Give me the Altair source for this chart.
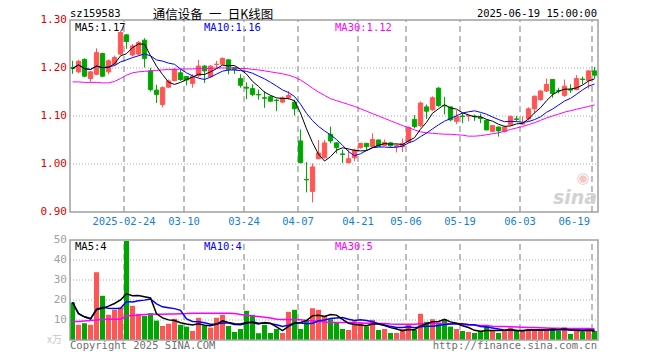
import altair as alt
import pandas as pd

dates = ["2025-02-11","2025-02-12","2025-02-13","2025-02-14",
"2025-02-17","2025-02-18","2025-02-19","2025-02-20","2025-02-21",
"2025-02-24","2025-02-25","2025-02-26","2025-02-27","2025-02-28",
"2025-03-03","2025-03-04","2025-03-05","2025-03-06","2025-03-07",
"2025-03-10","2025-03-11","2025-03-12","2025-03-13","2025-03-14",
"2025-03-17","2025-03-18","2025-03-19","2025-03-20","2025-03-21",
"2025-03-24","2025-03-25","2025-03-26","2025-03-27","2025-03-28","2025-03-31",
"2025-04-01","2025-04-02","2025-04-03",
"2025-04-07","2025-04-08","2025-04-09","2025-04-10","2025-04-11",
"2025-04-14","2025-04-15","2025-04-16","2025-04-17","2025-04-18",
"2025-04-21","2025-04-22","2025-04-23","2025-04-24","2025-04-25",
"2025-04-28","2025-04-29","2025-04-30",
"2025-05-06","2025-05-07","2025-05-08","2025-05-09",
"2025-05-12","2025-05-13","2025-05-14","2025-05-15","2025-05-16",
"2025-05-19","2025-05-20","2025-05-21","2025-05-22","2025-05-23",
"2025-05-26","2025-05-27","2025-05-28","2025-05-29","2025-05-30",
"2025-06-03","2025-06-04","2025-06-05","2025-06-06",
"2025-06-09","2025-06-10","2025-06-11","2025-06-12","2025-06-13",
"2025-06-16","2025-06-17","2025-06-18","2025-06-19"]

open_ = [1.201,1.192,1.218,1.178,1.187,1.230,1.192,1.208,1.229,1.269,
1.227,1.229,1.258,1.194,1.154,1.124,1.160,1.174,1.190,1.182,
1.168,1.184,1.204,1.182,1.207,1.208,1.217,1.201,1.178,1.160,
1.157,1.145,1.138,1.140,1.133,1.129,1.138,1.129,1.048,0.968,
0.943,1.011,1.013,1.062,1.044,1.021,1.003,1.013,1.034,1.043,
1.036,1.050,1.039,1.044,1.036,1.036,1.046,1.093,1.080,1.119,
1.113,1.158,1.122,1.119,1.089,1.100,1.100,1.100,1.097,1.091,
1.068,1.077,1.068,1.082,1.094,1.083,1.094,1.115,1.134,1.152,
1.176,1.153,1.143,1.155,1.155,1.177,1.174,1.194]

close = [1.199,1.214,1.183,1.192,1.232,1.183,1.215,1.222,1.274,1.255,
1.246,1.253,1.220,1.155,1.145,1.159,1.173,1.197,1.176,1.175,
1.183,1.204,1.194,1.204,1.208,1.220,1.197,1.197,1.164,1.158,
1.145,1.144,1.137,1.131,1.132,1.138,1.143,1.115,1.003,0.967,
0.994,1.023,1.044,1.048,1.034,1.020,1.011,1.029,1.043,1.036,
1.051,1.037,1.045,1.038,1.039,1.043,1.076,1.078,1.127,1.110,
1.138,1.122,1.121,1.092,1.099,1.099,1.101,1.099,1.095,1.071,
1.080,1.069,1.077,1.099,1.093,1.085,1.115,1.141,1.152,1.166,
1.147,1.152,1.162,1.154,1.178,1.176,1.194,1.185]

high = [1.215,1.217,1.220,1.194,1.241,1.232,1.218,1.226,1.278,1.271,
1.250,1.256,1.262,1.200,1.165,1.162,1.176,1.200,1.197,1.183,
1.187,1.217,1.206,1.206,1.215,1.222,1.218,1.203,1.187,1.170,
1.166,1.155,1.152,1.143,1.136,1.141,1.152,1.134,1.072,1.004,
1.001,1.050,1.050,1.078,1.046,1.030,1.030,1.032,1.044,1.044,
1.064,1.051,1.051,1.046,1.041,1.053,1.078,1.102,1.130,1.124,
1.141,1.160,1.140,1.119,1.112,1.106,1.103,1.103,1.105,1.092,
1.080,1.078,1.080,1.101,1.100,1.099,1.118,1.143,1.154,1.178,
1.177,1.159,1.176,1.166,1.185,1.182,1.195,1.202]

low = [1.188,1.189,1.181,1.171,1.185,1.181,1.187,1.205,1.227,1.240,
1.224,1.226,1.201,1.151,1.127,1.118,1.159,1.172,1.173,1.164,
1.159,1.180,1.169,1.180,1.200,1.206,1.187,1.188,1.159,1.135,
1.141,1.134,1.117,1.129,1.110,1.127,1.134,1.101,1.001,0.941,
0.920,1.011,1.011,1.043,1.022,1.002,1.001,1.006,1.032,1.029,
1.034,1.036,1.038,1.034,1.024,1.025,1.044,1.074,1.077,1.094,
1.111,1.119,1.103,1.089,1.083,1.085,1.089,1.090,1.085,1.070,
1.067,1.057,1.066,1.080,1.089,1.082,1.090,1.105,1.132,1.150,
1.138,1.147,1.140,1.148,1.154,1.166,1.157,1.178]

volume = [18.8,7.6,8.4,7.6,33.9,22.1,12.6,15.1,16.3,49.5,
17.1,13.1,12.1,13.4,9.7,7.0,8.1,10.6,7.6,6.7,
4.5,11.1,7.0,6.2,11.1,12.6,7.0,4.0,5.5,14.6,
12.6,3.4,7.6,3.5,5.5,3.5,14.1,15.1,5.5,10.1,
15.9,15.1,12.1,10.4,8.7,5.5,5.0,9.4,8.7,6.8,
10.1,5.0,5.5,3.5,3.5,5.5,8.0,5.0,13.1,9.1,
10.4,8.7,10.4,6.7,5.5,4.5,4.0,3.5,4.5,7.0,
5.0,3.5,4.5,6.2,4.5,4.5,5.5,4.5,5.5,5.7,
5.5,4.5,6.3,3.0,5.0,4.0,6.0,4.5]

ma30 = [1.171,1.171,1.170,1.170,1.170,1.169,1.169,
1.172,1.178,1.185,1.190,1.192,1.193,1.194,
1.195,1.196,1.197,1.197,1.198,1.198,1.198,1.199,1.199,1.199,1.200,1.200,1.200,1.200,1.199,
1.199,1.197,1.196,1.194,1.192,1.190,1.188,1.185,1.181,1.175,1.167,1.158,1.150,1.143,1.136,
1.132,1.128,1.124,1.120,1.115,1.110,1.105,1.100,1.095,1.090,1.085,1.080,1.076,1.071,
1.067,1.065,1.064,1.063,1.062,1.062,1.061,1.060,1.058,1.058,1.059,1.061,1.063,1.065,1.068,
1.072,1.075,1.078,1.082,1.086,1.091,1.096,1.100,1.104,1.108,1.111,1.114,1.117,1.120,1.123]

vol_ma30 = [9.2,9.3,9.5,9.7,10.0,10.2,10.4,10.4,10.4,
12.1,12.3,12.5,12.7,12.9,12.9,12.9,13.0,13.0,13.1,13.2,
13.4,13.4,13.4,13.4,13.4,13.4,13.4,13.2,12.8,
12.4,12.0,11.7,11.4,11.0,10.4,10.3,10.2,10.1,10.1,9.8,9.6,9.2,9.0,
8.9,8.8,8.7,8.7,8.6,8.5,8.4,8.4,8.3,8.2,8.0,7.9,7.9,7.9,7.9,
8.1,8.2,8.2,8.2,8.2,8.1,8.0,
7.6,7.5,7.4,7.3,7.2,6.9,6.8,6.7,6.6,6.5,
6.4,6.3,6.2,6.1,6.0,5.9,5.9,5.8,5.8,5.8,5.7,5.7,5.6]

tick_dates = ["2025-02-24","2025-03-10","2025-03-24","2025-04-07","2025-04-21",
              "2025-05-06","2025-05-19","2025-06-03","2025-06-19"]
tick_labels = ["2025-02-24","03-10","03-24","04-07","04-21","05-06","05-19","06-03","06-19"]
price_ticks = [1.30, 1.20, 1.10, 1.00, 0.90]
price_tick_labels = ["1.30", "1.20", "1.10", "1.00", "0.90"]
price_grid = [1.20, 1.10, 1.00]
vol_ticks = [50, 40, 30, 20, 10]
vol_grid = [40, 30, 20, 10]

RED = "#ff5555"
GREEN = "#00a600"
GRID = "#a8a8a8"
FRAME = "#a0a0a0"
MONO = "DejaVu Sans Mono"

n = len(dates)
df = pd.DataFrame({"i": list(range(n)), "date": dates, "open": open_, "high": high,
                   "low": low, "close": close, "volume": volume,
                   "ma30": ma30, "vma30": vol_ma30})
df["dir"] = ["up" if c >= o else "down" for o, c in zip(open_, close)]

X0, X1 = -0.42, n - 0.42
xs = alt.Scale(domain=[X0, X1], nice=False, zero=False)
ys = alt.Scale(domain=[1.30 - 320 / 480, 1.30], nice=False, zero=False)
vs = alt.Scale(domain=[0, 160], nice=False, zero=False)
cs = alt.Scale(domain=["up", "down"], range=[RED, GREEN])

grid_idx = [dates.index(d) for d in tick_dates]
vgrid = pd.DataFrame({"gx": [g - 0.42 for g in grid_idx], "t": tick_labels,
                      "p0": 0.90, "p1": 1.30, "v0": 0, "v1": 50})

def X(f):
    return alt.X(f, type="quantitative", scale=xs, axis=None)

def YP(f):
    return alt.Y(f, type="quantitative", scale=ys, axis=None)

def YV(f):
    return alt.Y(f, type="quantitative", scale=vs, axis=None)

def label(text, x, y, color, size=10, align="left", font=MONO, **kw):
    return alt.Chart(pd.DataFrame({"t": [text]})).mark_text(
        align=align, baseline="middle", font=font, fontSize=size, color=color, **kw
    ).encode(x=alt.value(x), y=alt.value(y), text="t:N")

base = alt.Chart(df)

# ---------------- price panel ----------------
frame_p = alt.Chart(pd.DataFrame({"x0": [X0], "x1": [X1], "y0": [0.90], "y1": [1.30]})).mark_rect(
    fillOpacity=0, stroke=FRAME, strokeWidth=1.5
).encode(x=X("x0"), x2="x1:Q", y=YP("y0"), y2="y1:Q")

hgrid_p = alt.Chart(pd.DataFrame({"p": price_grid, "x0": X0, "x1": X1})).mark_rule(
    color=GRID, strokeDash=[1, 2], strokeWidth=1
).encode(x=X("x0"), x2="x1:Q", y=YP("p"))

vgrid_p = alt.Chart(vgrid).mark_rule(color=GRID, strokeDash=[6, 4], strokeWidth=1.5).encode(
    x=X("gx"), y=YP("p0"), y2="p1:Q")

wicks = base.mark_rule(strokeWidth=1).encode(
    x=X("i"), y=YP("low"), y2="high:Q",
    color=alt.Color("dir:N", scale=cs, legend=None))

bodies = base.transform_calculate(
    xl="datum.i - 0.36", xr="datum.i + 0.36"
).mark_rect(strokeWidth=1).encode(
    x=X("xl"), x2="xr:Q", y=YP("open"), y2="close:Q",
    color=alt.Color("dir:N", scale=cs, legend=None),
    stroke=alt.Stroke("dir:N", scale=cs, legend=None))

ma5_p = base.transform_window(ma5="mean(close)", frame=[-4, 0], sort=[alt.SortField("i")]).mark_line(
    color="#000000", strokeWidth=1).encode(x=X("i"), y=YP("ma5"))
ma10_p = base.transform_window(ma10="mean(close)", frame=[-9, 0], sort=[alt.SortField("i")]).mark_line(
    color="#0000ff", strokeWidth=1).encode(x=X("i"), y=YP("ma10"))
ma30_p = base.mark_line(color="#ff00ff", strokeWidth=1).encode(x=X("i"), y=YP("ma30"))

ptick = alt.Chart(pd.DataFrame({"p": price_ticks, "t": price_tick_labels})).mark_text(
    align="right", baseline="middle", font=MONO, fontSize=11, color="#e00000"
).encode(x=alt.value(-3), y=YP("p"), text="t:N")

dlab = alt.Chart(vgrid.iloc[:-1]).mark_text(
    align="center", baseline="middle", font=MONO, fontSize=10.5, color="#1580d0", dy=10
).encode(x=X("gx"), y=YP("p0"), text="t:N")
dlab_last = alt.Chart(vgrid.iloc[-1:]).mark_text(
    align="right", baseline="middle", font=MONO, fontSize=10.5, color="#1580d0", dy=10, dx=-2
).encode(x=X("gx"), y=YP("p0"), text="t:N")

texts_p = [
    label("sz159583", 0, -6, "#000000", 10.5),
    label("通信设备\u2002一\u2002日K线图", 143, -5, "#000000", 12.5, "center", "Noto Sans CJK SC"),
    label("2025-06-19 15:00:00", 527, -6, "#000000", 10.5, "right"),
    label("MA5:1.17", 5, 8, "#000000", 10.5),
    label("MA10:1.16", 134, 8, "#0000ff", 10.5),
    label("MA30:1.12", 265, 8, "#ff00ff", 10.5),
    label("sina", 505, 178, "#d2d2d2", 19, "center", "DejaVu Sans", fontWeight="bold", fontStyle="italic"),
    label("◉", 513, 158, "#f4c8c8", 15, "center", "DejaVu Sans"),
]

P = alt.layer(vgrid_p, hgrid_p, wicks, bodies, ma30_p, ma10_p, ma5_p, frame_p,
              ptick, dlab, dlab_last, *texts_p)

# ---------------- volume panel ----------------
frame_v = alt.Chart(pd.DataFrame({"x0": [X0], "x1": [X1], "y0": [0], "y1": [50]})).mark_rect(
    fillOpacity=0, stroke=FRAME, strokeWidth=1.5
).encode(x=X("x0"), x2="x1:Q", y=YV("y0"), y2="y1:Q")

hgrid_v = alt.Chart(pd.DataFrame({"v": vol_grid, "x0": X0, "x1": X1})).mark_rule(
    color=GRID, strokeDash=[1, 2], strokeWidth=1
).encode(x=X("x0"), x2="x1:Q", y=YV("v"))

vgrid_v = alt.Chart(vgrid).mark_rule(color=GRID, strokeDash=[6, 4], strokeWidth=1.5).encode(
    x=X("gx"), y=YV("v0"), y2="v1:Q")

vbars = base.transform_calculate(
    xl="datum.i - 0.42", xr="datum.i + 0.42", z="0"
).mark_rect().encode(
    x=X("xl"), x2="xr:Q", y=YV("z"), y2="volume:Q",
    color=alt.Color("dir:N", scale=cs, legend=None))

ma5_v = base.transform_window(m5="mean(volume)", frame=[-4, 0], sort=[alt.SortField("i")]).mark_line(
    color="#000000", strokeWidth=1.5).encode(x=X("i"), y=YV("m5"))
ma10_v = base.transform_window(m10="mean(volume)", frame=[-9, 0], sort=[alt.SortField("i")]).mark_line(
    color="#0000ff", strokeWidth=1.5).encode(x=X("i"), y=YV("m10"))
ma30_v = base.mark_line(color="#ff00ff", strokeWidth=1.5).encode(x=X("i"), y=YV("vma30"))

vtick = alt.Chart(pd.DataFrame({"v": vol_ticks, "t": [str(v) for v in vol_ticks]})).mark_text(
    align="right", baseline="middle", font=MONO, fontSize=11, color="#a0a0a0"
).encode(x=alt.value(-3), y=YV("v"), text="t:N")

texts_v = [
    label("x万", -8, 320, "#c8c8c8", 10, "right", "Noto Sans CJK SC"),
    label("MA5:4", 5, 227, "#000000", 10.5),
    label("MA10:4", 134, 227, "#0000ff", 10.5),
    label("MA30:5", 265, 227, "#ff00ff", 10.5),
    label("Copyright 2025 SINA.COM", 0, 326, "#707070", 10.5),
    label("http://finance.sina.com.cn", 527, 326, "#707070", 10.5, "right"),
]

V = alt.layer(vgrid_v, hgrid_v, vbars, ma30_v, ma10_v, ma5_v, frame_v, vtick, *texts_v)

chart = alt.layer(P, V).resolve_scale(y="independent").properties(
    width=528, height=320,
    autosize=alt.AutoSizeParams(type="none"),
    padding={"left": 62, "top": 12, "right": 10, "bottom": 12},
    background="#ffffff",
).configure_view(strokeWidth=0)

chart.save("out.html", embed_options={"renderer": "svg", "actions": False})
